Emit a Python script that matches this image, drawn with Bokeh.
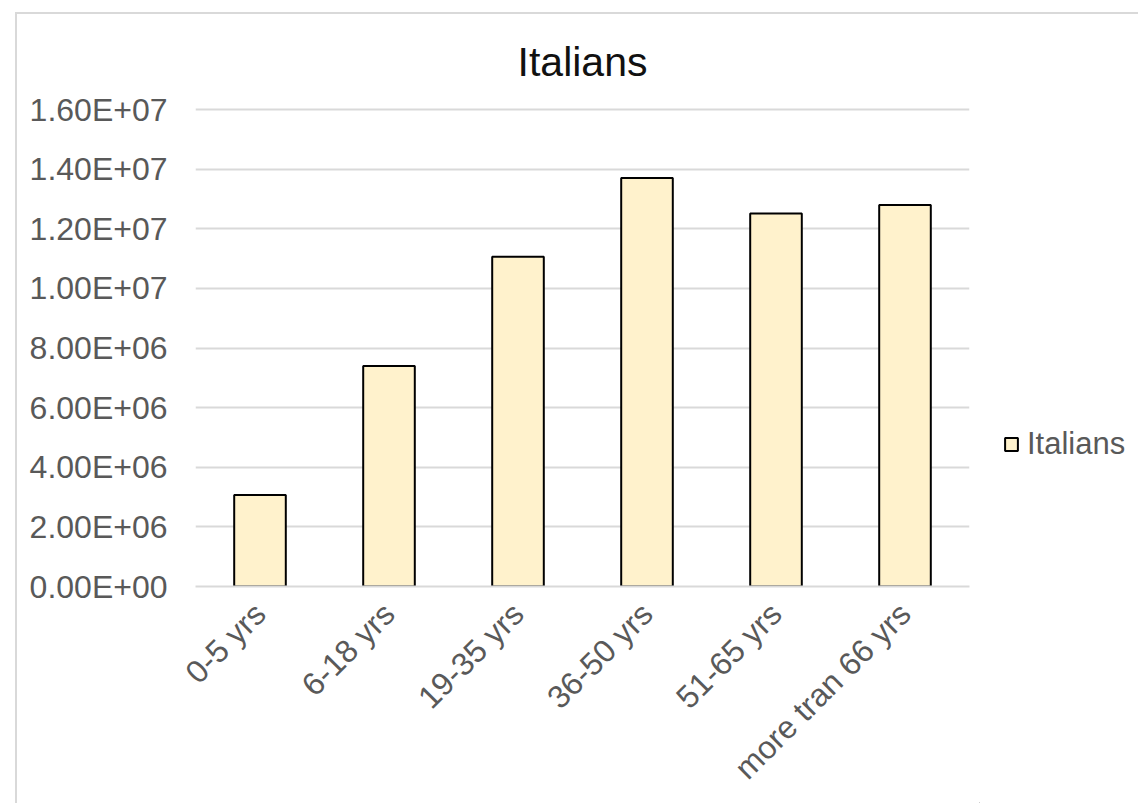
from bokeh.plotting import figure
from bokeh.models import (ColumnDataSource, FixedTicker, CustomJSTickFormatter,
                          Legend, LegendItem, Range1d)
from bokeh.layouts import row
from bokeh.embed import file_html
from bokeh.resources import INLINE
import math

categories = ["0-5 yrs", "6-18 yrs", "19-35 yrs", "36-50 yrs", "51-65 yrs", "more tran 66 yrs"]
values = [3.07e6, 7.40e6, 1.106e7, 1.370e7, 1.251e7, 1.280e7]
series_name = "Italians"
y_ticks = [0, 2e6, 4e6, 6e6, 8e6, 1e7, 1.2e7, 1.4e7, 1.6e7]

src = ColumnDataSource(dict(cat=categories, val=values))

FONT = "Liberation Sans"
BAR_FILL = "#fff2cc"

p = figure(x_range=categories, y_range=Range1d(0, 1.6e7 * 479 / 477),
           width=962, height=789, output_backend="svg", toolbar_location=None,
           min_border_left=178, min_border_right=10, min_border_top=93, min_border_bottom=217,
           background_fill_color="white", border_fill_color="white", frame_align=False)
p.outline_line_color = None

r = p.vbar(x="cat", top="val", width=0.4, source=src,
           fill_color=BAR_FILL, line_color="black", line_width=2)

# title
p.title.text = "Italians"
p.title.align = "center"
p.title.text_font = FONT
p.title.text_font_size = "41px"
p.title.text_font_style = "normal"
p.title.text_color = "#111111"
p.title.standoff = 45

# y axis
p.yaxis.ticker = FixedTicker(ticks=y_ticks)
p.yaxis.formatter = CustomJSTickFormatter(code="""
    const s = tick.toExponential(2).split('e');
    const e = parseInt(s[1]);
    return s[0] + 'E' + (e < 0 ? '-' : '+') + String(Math.abs(e)).padStart(2, '0');
""")
p.yaxis.axis_line_color = None
p.yaxis.major_tick_line_color = None
p.yaxis.minor_tick_line_color = None
p.yaxis.major_label_text_font = FONT
p.yaxis.major_label_text_font_size = "32px"
p.yaxis.major_label_text_color = "#595959"
p.yaxis.major_label_standoff = 22

# x axis
p.xaxis.axis_line_color = "#d9d9d9"
p.xaxis.axis_line_width = 2
p.xaxis.major_tick_line_color = None
p.xaxis.minor_tick_line_color = None
p.xaxis.major_label_orientation = math.pi / 4
p.xaxis.major_label_text_font = FONT
p.xaxis.major_label_text_font_size = "32px"
p.xaxis.major_label_text_color = "#595959"
p.xaxis.major_label_standoff = 16

# grid
p.xgrid.grid_line_color = None
p.ygrid.grid_line_color = "#d9d9d9"
p.ygrid.grid_line_width = 2

# legend panel (separate figure to the right of the chart)
lf = figure(width=159, height=789, output_backend="svg", toolbar_location=None,
            x_axis_location=None, y_axis_location=None,
            min_border_left=0, min_border_right=0, min_border_top=0, min_border_bottom=0,
            x_range=Range1d(0, 1), y_range=Range1d(0, 1), frame_align=False,
            background_fill_color="white", border_fill_color="white")
lf.outline_line_color = None
lf.grid.visible = False
# off-range proxy bar so the legend swatch uses the same styling as the chart's bars
lr = lf.vbar(x=[-10], top=[-10], bottom=[-11], width=0.4,
             fill_color=BAR_FILL, line_color="black", line_width=2)

legend = Legend(items=[LegendItem(label=series_name, renderers=[lr])],
                location=(24, 341), orientation="vertical",
                glyph_width=16, glyph_height=16, label_standoff=8,
                label_text_font=FONT, label_text_font_size="31px",
                label_text_color="#595959", padding=0, margin=0,
                border_line_color=None, background_fill_alpha=0)
lf.add_layout(legend, "center")

layout = row(p, lf, styles={"margin-left": "15px", "margin-top": "12px",
                            "border-left": "2px solid #d9d9d9",
                            "border-top": "2px solid #d9d9d9"})

open("out.html", "w").write(file_html(layout, INLINE))
